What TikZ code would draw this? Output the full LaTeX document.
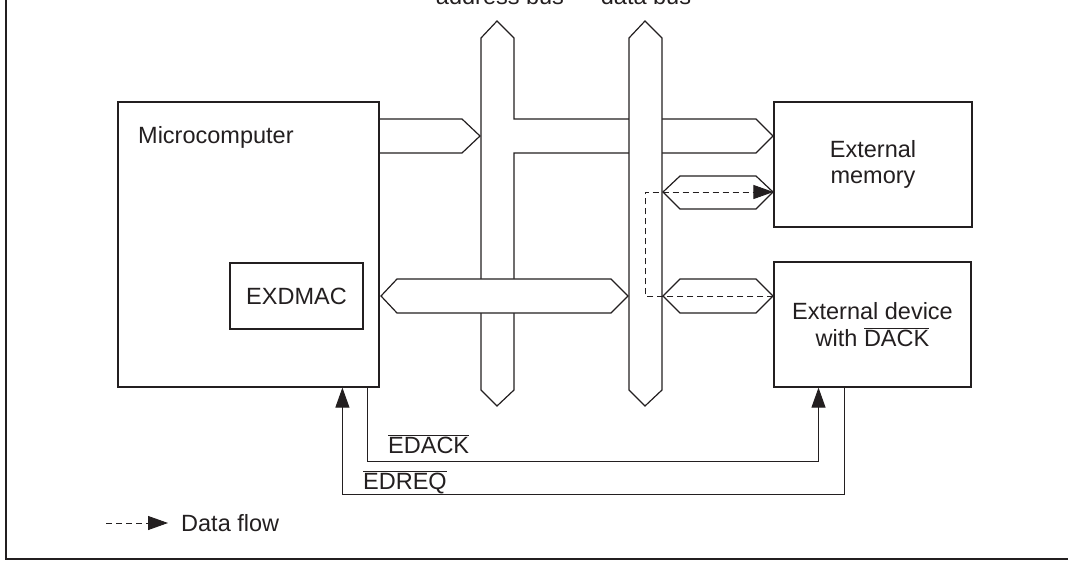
\documentclass[tikz,border=0pt]{standalone}
\usepackage{fontspec}
\setmainfont{Liberation Sans}
\usetikzlibrary{arrows.meta}
\definecolor{ink}{RGB}{35,31,32}
\begin{document}
\begin{tikzpicture}[x=1pt,y=-1pt,line join=miter,
  box/.style={draw=ink,line width=1.2pt,inner sep=0pt,fill=white},
  bus/.style={draw=ink,fill=white,line width=1.2pt},
  sig/.style={draw=ink,line width=1pt,-{Triangle[length=20pt,width=14pt]}},
  flow/.style={draw=ink,line width=0.9pt,dash pattern=on 6pt off 4pt,-{Triangle[length=20pt,width=14pt]}},
  lbl/.style={font=\fontsize{23.5}{26.5}\selectfont,text=ink,inner sep=0pt}]
\useasboundingbox (0,0) rectangle (1068,561);
% frame
\draw[ink,line width=2pt] (6,-5) -- (6,559) -- (1075,559);
% address bus with branch to external memory
\draw[bus] (481,38) -- (497,21) -- (514,38) -- (514,119) -- (756,119) -- (773,136)
  -- (756,153) -- (514,153) -- (514,390) -- (497,406) -- (481,390) -- cycle;
% data bus
\draw[bus] (629,38) -- (645,21) -- (662,38) -- (662,390) -- (645,406) -- (629,390) -- cycle;
% EXDMAC <-> data bus
\draw[bus] (381,296) -- (397,279) -- (611,279) -- (628,296) -- (611,313) -- (397,313) -- cycle;
% microcomputer -> address bus
\draw[bus] (379,119) -- (462,119) -- (480,136) -- (462,153) -- (379,153);
% data bus <-> external memory
\draw[bus] (663,192) -- (680,176) -- (756,176) -- (773,192) -- (756,209) -- (680,209) -- cycle;
% data bus <-> external device
\draw[bus] (663,296) -- (680,279) -- (756,279) -- (773,296) -- (756,313) -- (680,313) -- cycle;
% boxes
\node[box,minimum width=261pt,minimum height=285pt] (micro) at (248.5,244.5) {};
\node[lbl,anchor=base west] (microlbl) at (138,144) {Microcomputer};
\node[box,lbl,minimum width=133pt,minimum height=66pt] (exd) at (296.5,296) {EXDMAC};
\node[box,lbl,align=center,minimum width=198pt,minimum height=125pt] (mem) at (873,164.5) {External\\memory};
\node[box,lbl,align=center,minimum width=197pt,minimum height=125pt] (dev) at (872.5,324.5) {External device\\with $\overline{\mbox{DACK}}$};
% bus labels
\node[lbl,anchor=base] (ablbl) at (500,5) {address bus};
\node[lbl,anchor=base] (dblbl) at (646,5) {data bus};
% data flow path
\coordinate (dbx) at (645,192);
\draw[flow] ([yshift=28.5pt]dev.west) -| (dbx) -- ([yshift=-27.5pt]mem.west);
% handshake signals
\draw[sig] ([xshift=-12pt]micro.south east) -- ++(0,74) -| ([xshift=-54pt]dev.south);
\draw[sig] ([xshift=-127pt]dev.south east) -- ++(0,107) -| ([xshift=225pt]micro.south west);
\node[lbl,anchor=base west] (acklbl) at (388,453) {$\overline{\mbox{EDACK}}$};
\node[lbl,anchor=base west] (reqlbl) at (363,489) {$\overline{\mbox{EDREQ}}$};
% legend
\node[lbl,anchor=west] (dflbl) at (181,523) {Data flow};
\coordinate (dfstart) at (106,523);
\draw[flow] (dfstart) -- ([xshift=-13pt]dflbl.west);
\end{tikzpicture}
\end{document}
